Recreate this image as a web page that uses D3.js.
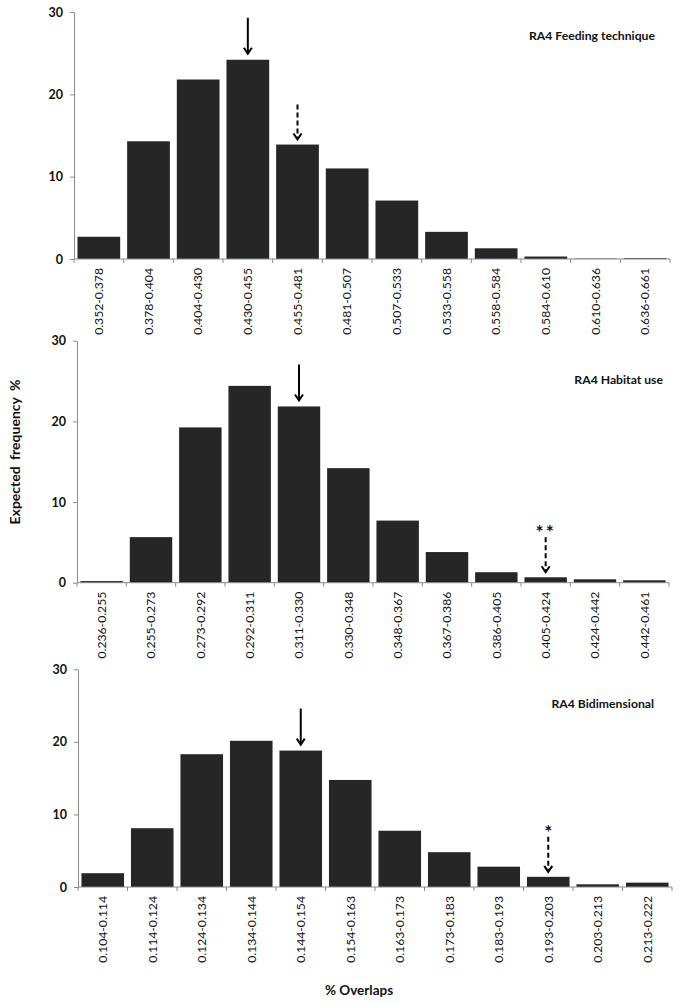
<!DOCTYPE html>
<html><head><meta charset="utf-8">
<script src="https://cdn.jsdelivr.net/npm/d3@7"></script>
<style>body{margin:0;background:#fff}svg{display:block}text{font-family:Lato,"Open Sans",sans-serif}</style>
</head><body>
<script>
const yTicks = [0, 10, 20, 30];

const feedingCats = ["0.352-0.378","0.378-0.404","0.404-0.430","0.430-0.455","0.455-0.481","0.481-0.507","0.507-0.533","0.533-0.558","0.558-0.584","0.584-0.610","0.610-0.636","0.636-0.661"];
const feedingVals = [2.7, 14.3, 21.8, 24.2, 13.9, 11.0, 7.1, 3.3, 1.3, 0.3, 0.05, 0.1];

const habitatCats = ["0.236-0.255","0.255-0.273","0.273-0.292","0.292-0.311","0.311-0.330","0.330-0.348","0.348-0.367","0.367-0.386","0.386-0.405","0.405-0.424","0.424-0.442","0.442-0.461"];
const habitatVals = [0.2, 5.65, 19.25, 24.4, 21.85, 14.2, 7.7, 3.8, 1.3, 0.67, 0.42, 0.3];

const bidimCats = ["0.104-0.114","0.114-0.124","0.124-0.134","0.134-0.144","0.144-0.154","0.154-0.163","0.163-0.173","0.173-0.183","0.183-0.193","0.193-0.203","0.203-0.213","0.213-0.222"];
const bidimVals = [1.9, 8.1, 18.3, 20.15, 18.8, 14.75, 7.75, 4.8, 2.8, 1.4, 0.37, 0.6];

const panelTitles = ["RA4 Feeding technique", "RA4 Habitat use", "RA4 Bidimensional"];
const solidArrowCats = ["0.430-0.455", "0.311-0.330", "0.144-0.154"];
const dashedArrowCats = ["0.455-0.481", "0.405-0.424", "0.193-0.203"];
const dashedArrowStars = ["", "**", "*"];

const yTitle = "Expected frequency %";
const xTitle = "% Overlaps";

const W = 685, H = 1006;
const svg = d3.select("body").append("svg").attr("width", W).attr("height", H);

const panels = [
  {cats: feedingCats, vals: feedingVals, x0: 74, x1: 670, yT: 12, yB: 259, titleY: 40, titleX: 655},
  {cats: habitatCats, vals: habitatVals, x0: 77, x1: 669, yT: 340.7, yB: 582.7, titleY: 384, titleX: 663},
  {cats: bidimCats, vals: bidimVals, x0: 78, x1: 672, yT: 669.3, yB: 887, titleY: 708, titleX: 654}
];

const axisColor = "#8a8a8a";

function arrowHead(g, x, y) {
  g.append("path")
    .attr("d", `M${x-4},${y-6} L${x},${y} L${x+4},${y-6}`)
    .attr("fill", "none").attr("stroke", "#000").attr("stroke-width", 2)
    .attr("stroke-linejoin", "miter");
}

panels.forEach((p, i) => {
  const g = svg.append("g");
  const x = d3.scaleBand().domain(p.cats).range([p.x0, p.x1]).paddingInner(0.14).paddingOuter(0.07);
  const y = d3.scaleLinear().domain([0, 30]).range([p.yB, p.yT]);

  g.selectAll("rect.bar").data(p.cats.map((c, j) => ({c, v: p.vals[j]})))
    .join("rect").attr("class", "bar")
    .attr("x", d => x(d.c)).attr("width", x.bandwidth())
    .attr("y", d => y(d.v)).attr("height", d => y(0) - y(d.v))
    .attr("fill", "#262626");

  const ya = g.append("g").attr("transform", `translate(${p.x0},0)`)
    .call(d3.axisLeft(y).tickValues(yTicks).tickSize(4).tickSizeOuter(0).tickPadding(7));
  ya.select(".domain").attr("stroke", axisColor);
  ya.selectAll(".tick line").attr("stroke", axisColor);
  ya.selectAll(".tick text").attr("font-size", 12.5).attr("font-weight", "bold")
    .attr("font-family", "Lato").attr("fill", "#111");

  g.append("line").attr("x1", p.x0).attr("x2", p.x1).attr("y1", p.yB).attr("y2", p.yB).attr("stroke", axisColor);
  const step = x.step();
  const bounds = d3.range(p.cats.length + 1).map(k => x(p.cats[0]) - step * x.paddingInner() / 2 + k * step);
  g.selectAll("line.xt").data(bounds).join("line").attr("class", "xt")
    .attr("x1", d => d).attr("x2", d => d).attr("y1", p.yB).attr("y2", p.yB + 4)
    .attr("stroke", axisColor);

  g.selectAll("text.xl").data(p.cats).join("text").attr("class", "xl")
    .attr("transform", d => `translate(${x(d) + x.bandwidth() / 2},${p.yB + 9}) rotate(-90)`)
    .attr("text-anchor", "end").attr("dy", "0.35em")
    .attr("font-size", 12.2).attr("fill", "#111").text(d => d);

  g.append("text").attr("x", p.titleX).attr("y", p.titleY)
    .attr("text-anchor", "end").attr("font-size", 12.2).attr("font-weight", "bold")
    .attr("fill", "#111").text(panelTitles[i]);

  const sc = solidArrowCats[i];
  const sIdx = p.cats.indexOf(sc);
  const sx = x(sc) + x.bandwidth() / 2;
  const sEnd = y(p.vals[sIdx]) - 6;
  g.append("line").attr("x1", sx).attr("x2", sx).attr("y1", sEnd - 36).attr("y2", sEnd - 1)
    .attr("stroke", "#000").attr("stroke-width", 2);
  arrowHead(g, sx, sEnd);

  const dc = dashedArrowCats[i];
  const dIdx = p.cats.indexOf(dc);
  const dx = x(dc) + x.bandwidth() / 2;
  const dEnd = y(p.vals[dIdx]) - 5;
  g.append("line").attr("x1", dx).attr("x2", dx).attr("y1", dEnd - 35).attr("y2", dEnd - 1)
    .attr("stroke", "#000").attr("stroke-width", 2).attr("stroke-dasharray", "5,3");
  arrowHead(g, dx, dEnd);
  if (dashedArrowStars[i]) {
    g.append("text").attr("x", dx).attr("y", dEnd - 33).attr("text-anchor", "middle")
      .attr("font-size", 19).attr("font-weight", "bold").attr("fill", "#111")
      .attr("letter-spacing", dashedArrowStars[i].length > 1 ? 2 : 0)
      .text(dashedArrowStars[i]);
  }
});

svg.append("text").attr("transform", "translate(20,452) rotate(-90)")
  .attr("text-anchor", "middle").attr("font-size", 14).attr("font-weight", "bold")
  .attr("fill", "#111").attr("word-spacing", 3).text(yTitle);
svg.append("text").attr("x", 359).attr("y", 995)
  .attr("text-anchor", "middle").attr("font-size", 13.5).attr("font-weight", "bold")
  .attr("fill", "#111").text(xTitle);
</script>
</body></html>
